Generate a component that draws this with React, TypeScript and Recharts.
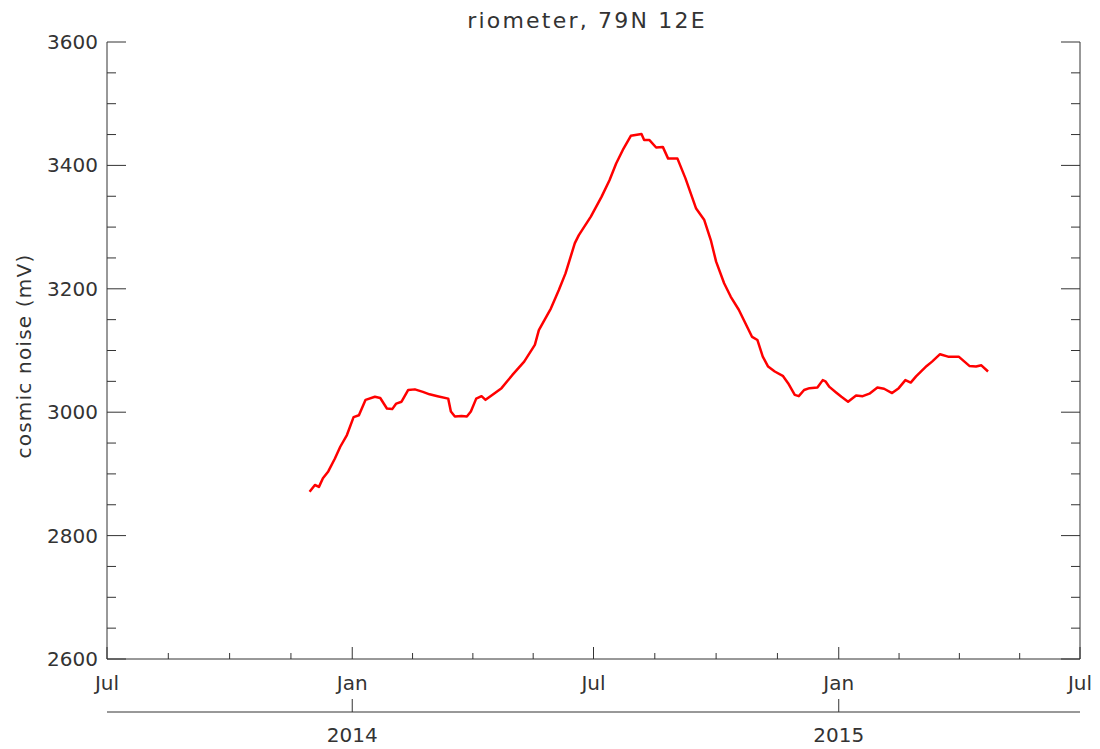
import { LineChart, Line, XAxis, YAxis } from "recharts";

// daily cosmic noise
const dates = [
  "2013-11-30", "2013-12-04", "2013-12-07", "2013-12-10", "2013-12-14", "2013-12-19",
  "2013-12-23", "2013-12-28", "2014-01-02", "2014-01-06", "2014-01-11", "2014-01-18",
  "2014-01-22", "2014-01-27", "2014-01-31", "2014-02-03", "2014-02-07", "2014-02-12",
  "2014-02-17", "2014-02-23", "2014-02-28", "2014-03-06", "2014-03-14", "2014-03-16",
  "2014-03-19", "2014-03-24", "2014-03-28", "2014-03-31", "2014-04-04", "2014-04-08",
  "2014-04-11", "2014-04-16", "2014-04-23", "2014-05-01", "2014-05-10", "2014-05-18",
  "2014-05-21", "2014-05-30", "2014-06-05", "2014-06-10", "2014-06-17", "2014-06-20",
  "2014-06-29", "2014-07-07", "2014-07-13", "2014-07-18", "2014-07-23", "2014-07-29",
  "2014-08-06", "2014-08-08", "2014-08-12", "2014-08-17", "2014-08-22", "2014-08-26",
  "2014-09-02", "2014-09-08", "2014-09-16", "2014-09-22", "2014-09-27", "2014-10-01",
  "2014-10-07", "2014-10-12", "2014-10-18", "2014-10-28", "2014-11-01", "2014-11-05",
  "2014-11-09", "2014-11-14", "2014-11-20", "2014-11-24", "2014-11-29", "2014-12-02",
  "2014-12-06", "2014-12-10", "2014-12-16", "2014-12-20", "2014-12-22", "2014-12-25",
  "2014-12-30", "2015-01-03", "2015-01-08", "2015-01-14", "2015-01-19", "2015-01-24",
  "2015-01-30", "2015-02-04", "2015-02-10", "2015-02-15", "2015-02-20", "2015-02-24",
  "2015-02-28", "2015-03-08", "2015-03-12", "2015-03-18", "2015-03-24", "2015-04-01",
  "2015-04-09", "2015-04-14", "2015-04-18", "2015-04-23",
];
const noise = [
  2871, 2882, 2879, 2893, 2904, 2925,
  2944, 2963, 2992, 2995, 3020, 3025,
  3023, 3006, 3005, 3014, 3017, 3036,
  3037, 3033, 3029, 3026, 3022, 3001,
  2993, 2994, 2993, 3001, 3022, 3026,
  3020, 3028, 3039, 3060, 3082, 3109,
  3133, 3168, 3198, 3225, 3274, 3287,
  3317, 3349, 3376, 3403, 3425, 3448,
  3451, 3441, 3441, 3429, 3430, 3411,
  3411, 3379, 3330, 3312, 3279, 3244,
  3209, 3187, 3166, 3122, 3117, 3090,
  3074, 3066, 3059, 3047, 3028, 3026,
  3036, 3039, 3040, 3052, 3050, 3041,
  3032, 3025, 3017, 3027, 3026, 3030,
  3040, 3038, 3031, 3039, 3052, 3048,
  3058, 3075, 3082, 3094, 3090, 3090,
  3075, 3074, 3076, 3066,
];

const majorDates = ["2013-07-01", "2014-01-01", "2014-07-01", "2015-01-01", "2015-07-01"];
const majorLabels = ["Jul", "Jan", "Jul", "Jan", "Jul"];
const yearDates = ["2014-01-01", "2015-01-01"];
const yearLabels = ["2014", "2015"];
const yTicks = [2600, 2650, 2700, 2750, 2800, 2850, 2900, 2950, 3000, 3050, 3100, 3150, 3200,
  3250, 3300, 3350, 3400, 3450, 3500, 3550, 3600];

const toT = (d: string) => Date.parse(d + "T00:00:00Z");
const majorTs = majorDates.map(toT);
const yearTs = yearDates.map(toT);

// 4 minor divisions between major ticks
const xTicks: number[] = [];
majorTs.forEach((t, i) => {
  xTicks.push(t);
  if (i < majorTs.length - 1) {
    const step = (majorTs[i + 1] - t) / 4;
    for (let k = 1; k < 4; k++) xTicks.push(t + k * step);
  }
});

const data = dates.map((d, i) => ({ t: toT(d), v: noise[i] }));

const INK = "#333";
const FONT = "'DejaVu Sans', sans-serif";
const textStyle = { fontFamily: FONT, fontSize: 20, fill: INK };

const BottomTick = (props: any) => {
  const { x, y, payload } = props;
  const i = majorTs.indexOf(payload.value);
  return (
    <g>
      <line x1={x} x2={x} y1={y} y2={y - (i >= 0 ? 12 : 6)} stroke={INK} />
      {i >= 0 && (
        <text x={x} y={y + 24} textAnchor="middle" dominantBaseline="central" {...textStyle}>
          {majorLabels[i]}
        </text>
      )}
    </g>
  );
};

const TopTick = (props: any) => {
  const { x, y, payload } = props;
  const major = majorTs.indexOf(payload.value) >= 0;
  return <line x1={x} x2={x} y1={y} y2={y + (major ? 11 : 5)} stroke={INK} />;
};

const YearTick = (props: any) => {
  const { x, y, payload } = props;
  const i = yearTs.indexOf(payload.value);
  return (
    <g>
      <line x1={x} x2={x} y1={y} y2={y - 13} stroke={INK} />
      <text x={x} y={y + 23} textAnchor="middle" dominantBaseline="central" {...textStyle}>
        {yearLabels[i]}
      </text>
    </g>
  );
};

const LeftTick = (props: any) => {
  const { x, y, payload } = props;
  const major = payload.value % 200 === 0;
  return (
    <g>
      <line x1={x} x2={x + (major ? 19 : 9)} y1={y} y2={y} stroke={INK} />
      {major && (
        <text x={x - 9} y={y} textAnchor="end" dominantBaseline="central" {...textStyle}>
          {payload.value}
        </text>
      )}
    </g>
  );
};

const RightTick = (props: any) => {
  const { x, y, payload } = props;
  const major = payload.value % 200 === 0;
  return <line x1={x} x2={x - (major ? 19 : 9)} y1={y} y2={y} stroke={INK} />;
};

export default function App() {
  const xDomain = [majorTs[0], majorTs[majorTs.length - 1]];
  return (
    <div style={{ position: "absolute", left: 0, top: 0, width: 1100, height: 749, background: "#fff" }}>
      <div
        style={{
          position: "absolute",
          left: 587,
          top: 20,
          transform: "translate(-50%, -50%)",
          fontFamily: FONT,
          fontSize: 22,
          color: INK,
          letterSpacing: 2.2,
          whiteSpace: "pre",
        }}
      >
        riometer, 79N 12E
      </div>
      <div
        style={{
          position: "absolute",
          left: 24,
          top: 356,
          transform: "translate(-50%, -50%) rotate(-90deg)",
          fontFamily: FONT,
          fontSize: 20,
          color: INK,
          letterSpacing: 1.2,
          whiteSpace: "pre",
        }}
      >
        cosmic noise (mV)
      </div>
      <LineChart width={1100} height={749} data={data} margin={{ top: 42, right: 0, left: 0, bottom: 0 }}>
        <XAxis
          dataKey="t"
          type="number"
          domain={xDomain}
          allowDataOverflow
          ticks={xTicks}
          interval={0}
          height={53}
          tickSize={0}
          tickMargin={0}
          tickLine={false}
          stroke={INK}
          tick={<BottomTick />}
        />
        <XAxis
          xAxisId="year"
          dataKey="t"
          type="number"
          domain={xDomain}
          allowDataOverflow
          ticks={yearTs}
          interval={0}
          height={37}
          tickSize={0}
          tickMargin={0}
          tickLine={false}
          stroke={INK}
          tick={<YearTick />}
        />
        <XAxis
          xAxisId="top"
          orientation="top"
          dataKey="t"
          type="number"
          domain={xDomain}
          allowDataOverflow
          ticks={xTicks}
          interval={0}
          height={0}
          tickSize={0}
          tickMargin={0}
          tickLine={false}
          stroke={INK}
          tick={<TopTick />}
        />
        <YAxis
          type="number"
          domain={[2600, 3600]}
          allowDataOverflow
          ticks={yTicks}
          interval={0}
          width={107}
          tickSize={0}
          tickMargin={0}
          tickLine={false}
          stroke={INK}
          tick={<LeftTick />}
        />
        <YAxis
          yAxisId="right"
          orientation="right"
          type="number"
          domain={[2600, 3600]}
          allowDataOverflow
          ticks={yTicks}
          interval={0}
          width={20}
          tickSize={0}
          tickMargin={0}
          tickLine={false}
          stroke={INK}
          tick={<RightTick />}
        />
        <Line
          dataKey="v"
          type="linear"
          stroke="#ff0000"
          strokeWidth={2.5}
          strokeLinejoin="round"
          dot={false}
          isAnimationActive={false}
        />
      </LineChart>
    </div>
  );
}
